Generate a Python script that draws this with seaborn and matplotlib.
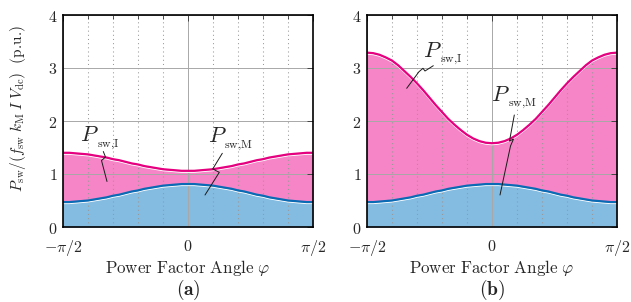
import numpy as np
import pandas as pd
import matplotlib
matplotlib.use("Agg")
import matplotlib.pyplot as plt
from matplotlib import transforms
from matplotlib.ticker import MultipleLocator, FixedLocator
import seaborn as sns

# ---- data ----
phi_k = list(range(-20, 21))           # angle in steps of pi/40
p_m = [0.47, 0.47, 0.48, 0.49, 0.50, 0.52, 0.54, 0.56, 0.59, 0.61, 0.64,
       0.67, 0.69, 0.72, 0.74, 0.76, 0.78, 0.79, 0.80, 0.81, 0.81,
       0.81, 0.80, 0.79, 0.78, 0.76, 0.74, 0.72, 0.69, 0.67, 0.64,
       0.61, 0.59, 0.56, 0.54, 0.52, 0.50, 0.49, 0.48, 0.47, 0.47]
p_total_a = [1.40, 1.40, 1.39, 1.38, 1.37, 1.35, 1.33, 1.31, 1.28, 1.26, 1.23,
             1.20, 1.18, 1.15, 1.13, 1.11, 1.09, 1.08, 1.07, 1.06, 1.06,
             1.06, 1.07, 1.08, 1.09, 1.11, 1.13, 1.15, 1.18, 1.20, 1.23,
             1.26, 1.28, 1.31, 1.33, 1.35, 1.37, 1.38, 1.39, 1.40, 1.40]
p_total_b = [3.29, 3.28, 3.25, 3.20, 3.14, 3.05, 2.94, 2.83, 2.71, 2.58, 2.44,
             2.30, 2.17, 2.04, 1.93, 1.83, 1.74, 1.67, 1.62, 1.59, 1.58,
             1.59, 1.62, 1.67, 1.74, 1.83, 1.93, 2.04, 2.17, 2.30, 2.44,
             2.58, 2.71, 2.83, 2.94, 3.05, 3.14, 3.20, 3.25, 3.28, 3.29]
xtick_labels = [r"$-\pi/2$", r"$0$", r"$\pi/2$"]
ytick_labels = [r"$0$", r"$1$", r"$2$", r"$3$", r"$4$"]
panel_labels = [r"$\mathbf{(a)}$", r"$\mathbf{(b)}$"]

sns.set_style("white")
plt.rcParams["mathtext.fontset"] = "cm"
plt.rcParams["font.family"] = ["DejaVu Serif"]

phi = np.array(phi_k) * np.pi / 40
PINK_FILL = "#f585c6"
PINK_LINE = "#e4007f"
BLUE_FILL = "#84bbe0"
BLUE_LINE = "#0a6ab4"

fig = plt.figure(figsize=(6.31, 3.02), dpi=100)
W, H = 631, 302
lefts = [63, 367]
AX_W, AX_TOP, AX_BOT = 250, 15, 227
axes = [fig.add_axes([l / W, (H - AX_BOT) / H, AX_W / W, (AX_BOT - AX_TOP) / H]) for l in lefts]

totals = [p_total_a, p_total_b]

# leader geometry in figure pixels: label anchor, polyline
leaders = [
    [  # panel a
        (r"$P$", (80, 141), r"$\mathrm{sw,\!I}$", (97, 147),
         [(103.3, 151.5), (105.5, 157), (101.5, 160.5), (107, 181.5)]),
        (r"$P$", (208, 142), r"$\mathrm{sw,\!M}$", (224, 148),
         [(222.3, 153.3), (212.7, 169), (219.3, 172.3), (205, 195)]),
    ],
    [  # panel b
        (r"$P$", (423, 57), r"$\mathrm{sw,\!I}$", (440, 62),
         [(433.3, 65.7), (425, 71), (423, 68.3), (419, 71.7), (406.7, 88.3)]),
        (r"$P$", (491, 101), r"$\mathrm{sw,\!M}$", (508, 106),
         [(514.3, 115), (509.5, 141), (513.5, 139), (510.5, 146), (500, 195)]),
    ],
]

for i, ax in enumerate(axes):
    tot = np.array(totals[i])
    pm = np.array(p_m)
    ax.fill_between(phi, 0, pm, color=BLUE_FILL, lw=0, zorder=1)
    ax.fill_between(phi, pm, tot, color=PINK_FILL, lw=0, zorder=1)

    df = pd.DataFrame({"phi": phi, "m": pm, "tot": tot})
    down = transforms.offset_copy(ax.transData, fig=fig, x=0, y=-1.4, units="dots")
    for col, c in (("m", BLUE_LINE), ("tot", PINK_LINE)):
        ax.plot(df["phi"], df[col], color="white", lw=0.9, zorder=3, transform=down,
                solid_capstyle="butt")
        sns.lineplot(data=df, x="phi", y=col, ax=ax, color=c, lw=1.6, zorder=4,
                     sort=False)

    ax.set_xlim(-np.pi / 2, np.pi / 2)
    ax.set_ylim(0, 4)
    ax.xaxis.set_major_locator(FixedLocator([-np.pi / 2, 0, np.pi / 2]))
    ax.xaxis.set_minor_locator(MultipleLocator(np.pi / 10))
    ax.set_xticklabels(xtick_labels)
    ax.yaxis.set_major_locator(FixedLocator([0, 1, 2, 3, 4]))
    ax.set_yticklabels(ytick_labels)
    ax.tick_params(axis="both", which="both", direction="in", top=True, right=True,
                   labelsize=11.5, color="#333333")
    ax.tick_params(which="major", length=4, width=0.6)
    ax.tick_params(which="minor", length=3, width=0.6)
    ax.tick_params(axis="x", pad=8)
    ax.tick_params(axis="y", pad=4)
    ax.set_axisbelow(False)
    ax.grid(True, which="major", color="#a8a8a8", lw=0.7, ls="-")
    ax.grid(True, which="minor", axis="x", color="#999999", lw=0.75, ls=(0, (1, 3)))
    for s in ax.spines.values():
        s.set_color("black")
        s.set_linewidth(1.2)
        s.set_zorder(6)

    ax.set_xlabel(r"$\mathrm{Power\ Factor\ Angle}\ \varphi$", fontsize=12.2, labelpad=0)
    ax.set_ylabel("")

    # annotations with zig-zag leaders
    for ptxt, ppos, stxt, spos, pts in leaders[i]:
        xs = [(x - lefts[i]) / AX_W for x, y in pts]
        ys = [(AX_BOT - y) / (AX_BOT - AX_TOP) for x, y in pts]
        ax.plot(xs, ys, color="#1a1a1a", lw=0.7, transform=ax.transAxes, zorder=7,
                clip_on=False)
        ax.text((ppos[0] - lefts[i]) / AX_W, (AX_BOT - ppos[1]) / (AX_BOT - AX_TOP), ptxt,
                transform=ax.transAxes, fontsize=16, ha="left", va="baseline", zorder=8)
        ax.text((spos[0] - lefts[i]) / AX_W, (AX_BOT - spos[1]) / (AX_BOT - AX_TOP), stxt,
                transform=ax.transAxes, fontsize=8.5, ha="left", va="baseline", zorder=8)

    fig.text((lefts[i] + AX_W / 2) / W, 1 - 289.5 / H, panel_labels[i], fontsize=14,
             ha="center", va="center")

fig.text(18 / W, 1 - 108 / H,
         r"$P_{\rm sw}/(f_{\rm sw}\;k_{\rm M}\;I\;V_{\rm dc})\ \ \mathrm{(p.\!u.\!)}$",
         rotation=90, fontsize=11, ha="center", va="center")

fig.savefig("out.png", dpi=100)
